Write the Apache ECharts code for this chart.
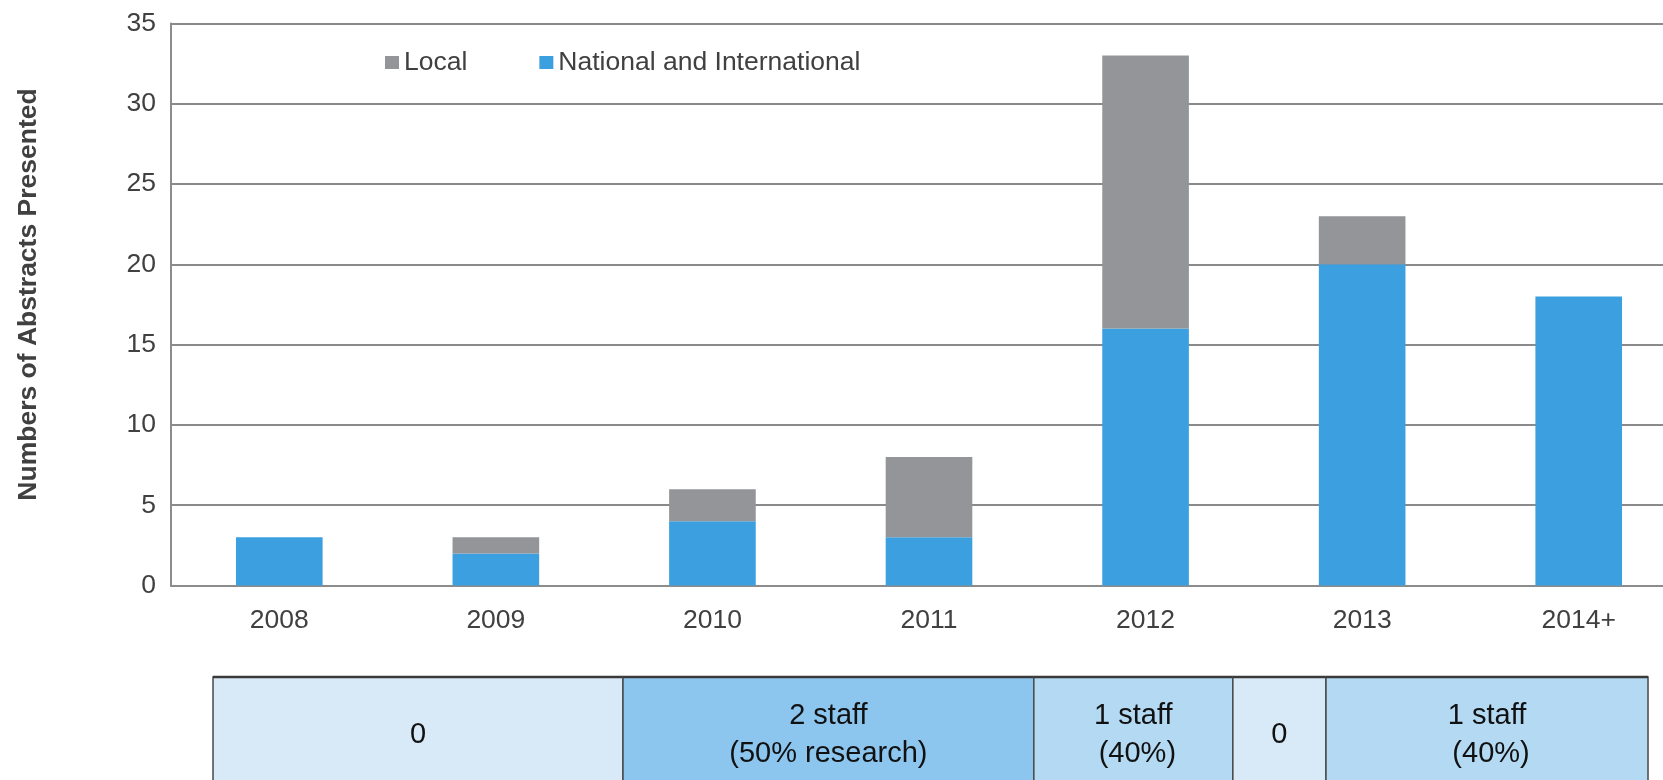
<!DOCTYPE html>
<html>
<head>
<meta charset="utf-8">
<title>Abstracts presented</title>
<script src="https://cdn.jsdelivr.net/npm/echarts@6/dist/echarts.min.js"></script>
<style>
  html, body { margin: 0; padding: 0; background: #fff; }
  #chart { width: 1663px; height: 780px; }
</style>
</head>
<body>
<div id="chart"></div>
<script>
// chart data
var years = ['2008', '2009', '2010', '2011', '2012', '2013', '2014+'];
var national = [3, 2, 4, 3, 16, 20, 18];
var local = [0, 1, 2, 5, 17, 3, 0];
var yTicks = [0, 5, 10, 15, 20, 25, 30, 35];

// staffing table under the chart (start/end in category units)
var staffStart = [0.194, 2.087, 3.984, 4.903, 5.333];
var staffEnd = [2.087, 3.984, 4.903, 5.333, 6.82];
var staffText = ['0', '2 staff\n(50% research)', '1 staff\n (40%)', '0', '1 staff\n (40%)'];
var staffLevel = [0, 2, 1, 0, 1];

var cellColors = ['#d8eaf8', '#b3d9f3', '#8cc6ee'];
var font = 'Liberation Sans, Arial, sans-serif';

var tableData = [];
for (var i = 0; i < staffStart.length; i++) {
    tableData.push([staffStart[i], staffEnd[i], staffLevel[i], staffText[i]]);
}

var myChart = echarts.init(document.getElementById('chart'));
myChart.setOption({
    animation: false,
    textStyle: { fontFamily: font },
    legend: {
        data: ['Local', 'National and International'],
        left: 380,
        top: 44,
        itemWidth: 14,
        itemHeight: 13,
        itemGap: 72,
        icon: 'rect',
        textStyle: { fontSize: 26.5, color: '#404040', fontFamily: font }
    },
    grid: [
        { left: 171, right: -24, top: 23.5, bottom: 194.5, outerBoundsMode: 'none' },
        { left: 171, right: -24, top: 677, bottom: -60, outerBoundsMode: 'none' }
    ],
    xAxis: [
        {
            type: 'category',
            gridIndex: 0,
            data: years,
            axisTick: { show: false },
            axisLine: { lineStyle: { color: '#8c8c8c', width: 2 } },
            axisLabel: { fontSize: 26.5, color: '#404040', margin: 22, fontFamily: font }
        },
        {
            type: 'value',
            gridIndex: 1,
            min: 0,
            max: 7,
            show: false
        }
    ],
    yAxis: [
        {
            type: 'value',
            gridIndex: 0,
            min: yTicks[0],
            max: yTicks[yTicks.length - 1],
            interval: 5,
            name: 'Numbers of Abstracts Presented',
            nameLocation: 'middle',
            nameGap: 129,
            nameTextStyle: {
                fontSize: 26.5, fontWeight: 'bold', color: '#404040', fontFamily: font,
                padding: [0, 0, 0, 20]
            },
            axisLine: { show: true, lineStyle: { color: '#8c8c8c', width: 2 } },
            axisTick: { show: false },
            axisLabel: { fontSize: 26.5, color: '#404040', margin: 15, fontFamily: font },
            splitLine: { lineStyle: { color: '#8a8a8a', width: 1.8 } }
        },
        {
            type: 'category',
            gridIndex: 1,
            data: ['staff'],
            show: false
        }
    ],
    series: [
        {
            name: 'National and International',
            type: 'bar',
            stack: 'total',
            barWidth: '40%',
            data: national,
            itemStyle: { color: '#3ca0e0' }
        },
        {
            name: 'Local',
            type: 'bar',
            stack: 'total',
            barWidth: '40%',
            data: local,
            itemStyle: { color: '#939598' }
        },
        {
            name: 'staff',
            type: 'custom',
            xAxisIndex: 1,
            yAxisIndex: 1,
            data: tableData,
            renderItem: function (params, api) {
                var cs = params.coordSys;
                var x0 = api.coord([api.value(0), 0])[0];
                var x1 = api.coord([api.value(1), 0])[0];
                var txt = tableData[params.dataIndex][3];
                return {
                    type: 'group',
                    children: [
                        {
                            type: 'rect',
                            shape: { x: x0, y: cs.y, width: x1 - x0, height: cs.height },
                            style: { fill: cellColors[api.value(2)], stroke: '#4a4a4a', lineWidth: 1.5 }
                        },
                        {
                            type: 'line',
                            shape: { x1: x0, y1: cs.y, x2: x1, y2: cs.y },
                            style: { stroke: '#3a3a3a', lineWidth: 2.5 }
                        },
                        {
                            type: 'text',
                            style: {
                                text: txt,
                                x: (x0 + x1) / 2,
                                y: cs.y + 58,
                                align: 'center',
                                verticalAlign: 'middle',
                                fontSize: 29,
                                lineHeight: 38,
                                fill: '#111111',
                                fontFamily: font
                            }
                        }
                    ]
                };
            }
        }
    ]
});
</script>
</body>
</html>
